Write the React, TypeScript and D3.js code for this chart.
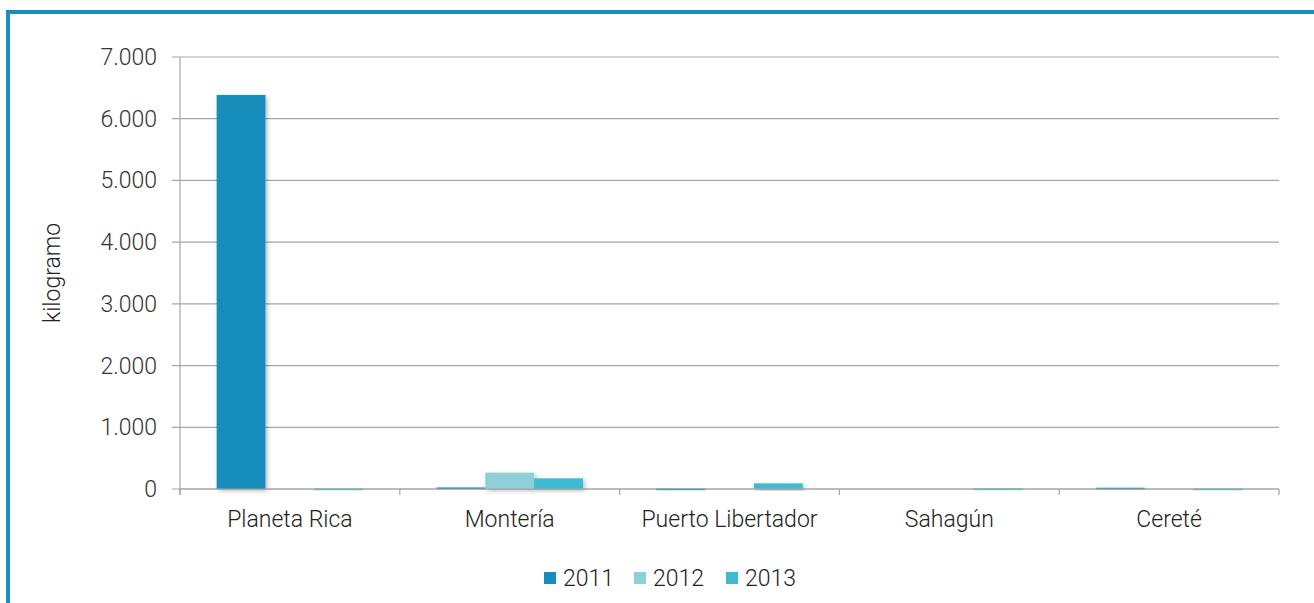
import React from "react";
import * as d3 from "d3";

const categories = ["Planeta Rica", "Montería", "Puerto Libertador", "Sahagún", "Cereté"];
const seriesNames = ["2011", "2012", "2013"];
const values2011 = [6385, 25, 6, 0, 20];
const values2012 = [0, 265, 0, 0, 0];
const values2013 = [6, 173, 92, 10, 6];
const seriesValues = [values2011, values2012, values2013];
const seriesColors = ["#168DBA", "#8ECFD9", "#3DBBD2"];
const yTicks = [0, 1000, 2000, 3000, 4000, 5000, 6000, 7000];

const W = 1314;
const H = 603;
const margin = { left: 180, right: 1279, top: 57, bottom: 489 };
const font = "Roboto, 'Noto Sans', sans-serif";
const fs = 23;

const fmt = (v: number) => d3.format(",")(v).replace(/,/g, ".");

export default function App() {
  const x = d3.scaleBand<string>().domain(categories).range([margin.left, margin.right]).paddingInner(0).paddingOuter(0);
  const inner = d3.scaleBand<string>().domain(seriesNames).range([0, x.bandwidth()]).paddingInner(0).paddingOuter(0.75);
  const y = d3.scaleLinear().domain([0, 7000]).range([margin.bottom, margin.top]);

  const boundaries = categories.map((c) => x(c) as number).concat([margin.right]);

  return (
    <svg width={W} height={H} style={{ position: "absolute", left: 0, top: 0, background: "#fff" }}>
      <defs>
        <filter id="sh" x="-20%" y="-20%" width="150%" height="150%">
          <feDropShadow dx="2" dy="2" stdDeviation="2" floodColor="#000" floodOpacity="0.25" />
        </filter>
      </defs>
      <rect x={8} y={12} width={1400} height={700} fill="none" stroke="#1690BC" strokeWidth={4} />
      {yTicks.map((t) => (
        <g key={t}>
          <line x1={margin.left - 8} x2={margin.right} y1={y(t)} y2={y(t)} stroke="#A6A6A6" strokeWidth={1.2} />
          <text x={157} y={y(t)} dy="0.35em" textAnchor="end" fontFamily={font} fontWeight={300} fontSize={fs} fill="#333">
            {fmt(t)}
          </text>
        </g>
      ))}
      <line x1={margin.left} x2={margin.left} y1={margin.top} y2={margin.bottom + 6} stroke="#A6A6A6" strokeWidth={1.2} />
      {boundaries.map((b, i) => (
        <line key={i} x1={b} x2={b} y1={margin.bottom} y2={margin.bottom + 6} stroke="#A6A6A6" strokeWidth={1.2} />
      ))}
      {categories.map((c, ci) => (
        <g key={c}>
          {seriesNames.map((s, si) => {
            const v = seriesValues[si][ci];
            if (v <= 0) return null;
            const bx = (x(c) as number) + (inner(s) as number);
            const top = y(v);
            return (
              <rect key={s} x={bx} y={top} width={inner.bandwidth()} height={Math.max(margin.bottom - top, 1.5)} fill={seriesColors[si]} filter="url(#sh)" />
            );
          })}
          <text x={(x(c) as number) + x.bandwidth() / 2} y={519} dy="0.35em" textAnchor="middle" fontFamily={font} fontWeight={300} fontSize={fs} fill="#222">
            {c}
          </text>
        </g>
      ))}
      <line x1={margin.left} x2={margin.right} y1={margin.bottom} y2={margin.bottom} stroke="#A6A6A6" strokeWidth={1.2} />
      <text transform={`translate(60,${(margin.top + margin.bottom) / 2}) rotate(-90)`} textAnchor="middle" fontFamily={font} fontWeight={300} fontSize={fs} fill="#222">
        kilogramo
      </text>
      {seriesNames.map((s, i) => {
        const lx = [544, 634, 726][i];
        return (
          <g key={s}>
            <rect x={lx} y={572} width={12} height={12} fill={seriesColors[i]} />
            <text x={lx + 19} y={578} dy="0.35em" fontFamily={font} fontWeight={300} fontSize={fs} fill="#222">
              {s}
            </text>
          </g>
        );
      })}
    </svg>
  );
}
